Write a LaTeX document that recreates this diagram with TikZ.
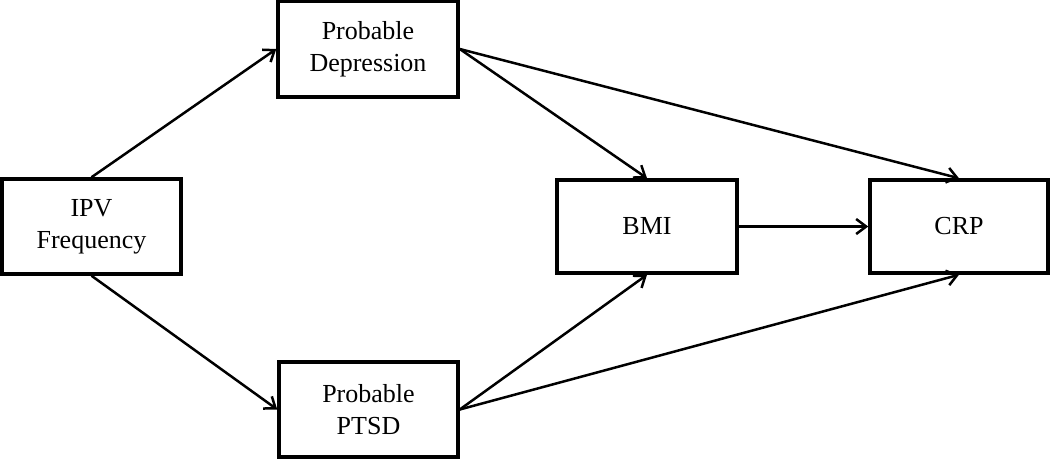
\documentclass[tikz,border=0pt]{standalone}
\usepackage{fontspec}
\setmainfont{Liberation Serif}
\usetikzlibrary{arrows.meta}
\begin{document}
\begin{tikzpicture}[x=1pt,y=1pt,
  box/.style={draw=black, line width=3.5pt, fill=white, align=center, inner sep=0pt,
    font=\fontsize{26}{32}\selectfont},
  conn/.style={line width=2.5pt, -{Straight Barb[length=10pt,width=15pt,line width=2.5pt]}}]
\useasboundingbox[fill=white] (0,0) rectangle (1050,-459);
\node[box, minimum width=179pt, minimum height=95pt] (ipv) at (91.5,-226.5) {IPV\\Frequency};
\node[box, minimum width=180pt, minimum height=96pt] (dep) at (368,-49) {Probable\\Depression};
\node[box, minimum width=179pt, minimum height=95pt] (ptsd) at (368.5,-409.5) {Probable\\PTSD};
\node[box, minimum width=180pt, minimum height=93pt] (bmi) at (647,-226.5) {BMI};
\node[box, minimum width=178pt, minimum height=93pt] (crp) at (959,-226.5) {CRP};
\draw[conn] (ipv.north) -- (dep.west);
\draw[conn] (ipv.south) -- (ptsd.west);
\draw[conn] (dep.east) -- (bmi.north);
\draw[conn] (dep.east) -- (crp.north);
\draw[conn] (ptsd.east) -- (bmi.south);
\draw[conn] (ptsd.east) -- (crp.south);
\draw[conn] (bmi.east) -- (crp.west);
\end{tikzpicture}
\end{document}
